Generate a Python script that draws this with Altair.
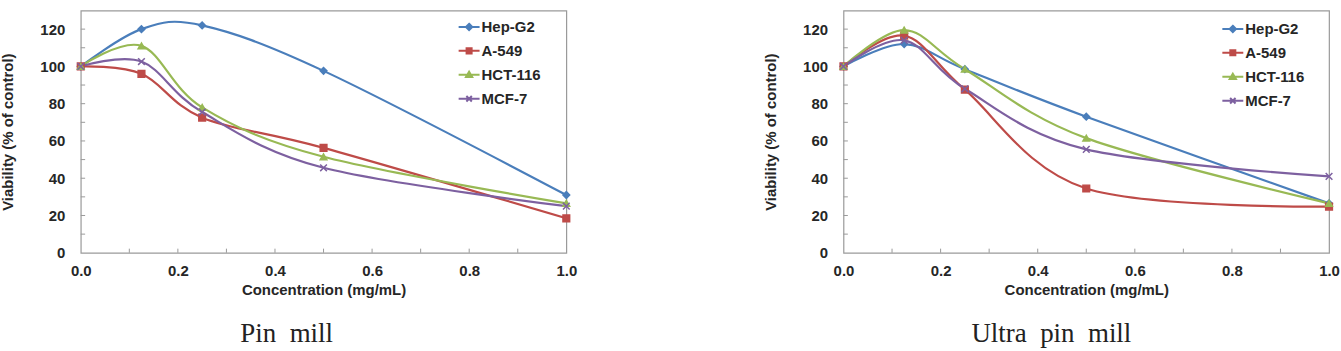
import altair as alt
import pandas as pd

# Concentrations tested (mg/mL)
conc = [0.0, 0.125, 0.25, 0.5, 1.0]
series = ["Hep-G2", "A-549", "HCT-116", "MCF-7"]
colors = ["#4A7EBB", "#BE4B48", "#98B954", "#7D60A0"]

# Viability (% of control) - pin mill
pin_hepg2 = [100, 120, 122, 97.6, 31]
pin_a549 = [100, 96, 72.5, 56.3, 18.5]
pin_hct116 = [100, 111, 78, 51.5, 26.5]
pin_mcf7 = [100, 102.6, 75.5, 45.6, 25]

# Viability (% of control) - ultra pin mill
ultra_hepg2 = [100, 112, 98.5, 73, 26.5]
ultra_a549 = [100, 116.5, 87.5, 34.5, 24.8]
ultra_hct116 = [100, 119.5, 98.5, 61.5, 26.5]
ultra_mcf7 = [100, 114, 88, 55.5, 41]

x_labels = [0.0, 0.2, 0.4, 0.6, 0.8, 1.0]
y_labels = [0, 20, 40, 60, 80, 100, 120]
x_minor = [0.1, 0.2, 0.3, 0.4, 0.5, 0.6, 0.7, 0.8, 0.9]
y_minor = [10, 20, 30, 40, 50, 60, 70, 80, 90, 100, 110, 120]
x_tick_len = 2.2     # in value units of the y scale
y_tick_len = 0.009   # in value units of the x scale

# point markers on the curves, and legend glyphs (line through marker)
marker_shapes = ["diamond", "square", "triangle-up", "M-1,-1L1,1M-1,1L1,-1"]
legend_shapes = [
    "M-1,0H1M0,-0.3L0.3,0L0,0.3L-0.3,0Z",
    "M-1,0H1M-0.24,-0.24H0.24V0.24H-0.24Z",
    "M-1,0H1M0,-0.3L0.3,0.22L-0.3,0.22Z",
    "M-1,0H1M-0.26,-0.26L0.26,0.26M-0.26,0.26L0.26,-0.26",
]

FONT = "Liberation Sans"
TEXT = "#262626"
GRAY = "#9a9a9a"


def long_table(cols):
    rows = []
    for name, vals in zip(series, cols):
        for c, v in zip(conc, vals):
            rows.append({"conc": c, "value": v, "series": name})
    return pd.DataFrame(rows)


def panel(cols, caption, legend_x, legend_y, caption_dx):
    df = long_table(cols)
    base = alt.Chart(df)

    xaxis = alt.Axis(
        values=x_labels, format=".1f", title="Concentration (mg/mL)",
        ticks=False, domain=False, grid=False, labelFlush=False,
        labelPadding=11, titlePadding=4,
    )
    yaxis = alt.Axis(
        values=y_labels, title="Viability (% of control)",
        ticks=False, domain=False, grid=False,
        labelPadding=16, titlePadding=24,
    )
    xscale = alt.Scale(domain=[0, 1], nice=False, zero=False)
    yscale = alt.Scale(domain=[0, 130], nice=False)
    x = alt.X("conc:Q", scale=xscale, axis=xaxis)
    y = alt.Y("value:Q", scale=yscale, axis=yaxis)
    cscale = alt.Scale(domain=series, range=colors)

    leg = alt.Legend(
        orient="none", legendX=legend_x, legendY=legend_y, title=None,
        labelFont=FONT, labelFontSize=15, labelFontWeight="bold",
        labelColor=TEXT, symbolSize=441, symbolStrokeWidth=2,
        rowPadding=4, labelOffset=1, padding=0,
    )

    lines = base.mark_line(interpolate="cardinal", strokeWidth=2.2).encode(
        x=x, y=y, color=alt.Color("series:N", scale=cscale, legend=None)
    )
    points = base.mark_point(size=45, opacity=1, fillOpacity=1, strokeWidth=1.5).encode(
        x=x, y=y,
        fill=alt.Fill("series:N", scale=cscale, legend=None),
        stroke=alt.Stroke("series:N", scale=cscale, legend=None),
        shape=alt.Shape("series:N", scale=alt.Scale(domain=series, range=marker_shapes), legend=None),
    )
    legend_layer = base.transform_filter("false").mark_point(opacity=1, fillOpacity=1, strokeWidth=2).encode(
        x=x, y=y,
        fill=alt.Fill("series:N", scale=cscale, legend=leg),
        stroke=alt.Stroke("series:N", scale=cscale, legend=leg),
        shape=alt.Shape("series:N", scale=alt.Scale(domain=series, range=legend_shapes), legend=leg),
    )

    # small inward tick marks along the bottom and left edges
    xt_df = pd.DataFrame({"conc": x_minor, "value": [0] * len(x_minor),
                          "value_end": [x_tick_len] * len(x_minor)})
    yt_df = pd.DataFrame({"value": y_minor, "conc": [0] * len(y_minor),
                          "conc_end": [y_tick_len] * len(y_minor)})
    xticks = alt.Chart(xt_df).mark_rule(color=GRAY, strokeWidth=1).encode(
        x=x, y=y, y2="value_end:Q"
    )
    yticks = alt.Chart(yt_df).mark_rule(color=GRAY, strokeWidth=1).encode(
        x=x, y=y, x2="conc_end:Q"
    )

    return (
        alt.layer(xticks, yticks, lines, points, legend_layer)
        .resolve_scale(color="independent", fill="independent", stroke="independent", shape="independent")
        .resolve_legend(color="independent", fill="independent", stroke="independent", shape="independent")
        .properties(
            width=487, height=243,
            title=alt.TitleParams(
                caption, orient="bottom", anchor="middle", frame="group",
                dx=caption_dx, offset=24, font="Liberation Serif", fontSize=27,
                fontWeight="normal", color="#222222",
            ),
        )
    )


left = panel([pin_hepg2, pin_a549, pin_hct116, pin_mcf7], "Pin\u00a0 mill", 378, 5, -37)
right = panel([ultra_hepg2, ultra_a549, ultra_hct116, ultra_mcf7], "Ultra\u00a0 pin\u00a0 mill", 379, 7, -35)

chart = (
    alt.hconcat(left, right, spacing=185)
    .properties(padding={"left": 0, "top": 9, "right": 0, "bottom": 0}, background="white")
    .configure_view(stroke=GRAY, strokeWidth=1.2)
    .configure_axis(
        labelFont=FONT, labelFontSize=15, labelFontWeight="bold", labelColor=TEXT,
        titleFont=FONT, titleFontSize=15, titleFontWeight="bold", titleColor=TEXT,
    )
)

chart.save("out.html", embed_options={"renderer": "svg", "actions": False})
